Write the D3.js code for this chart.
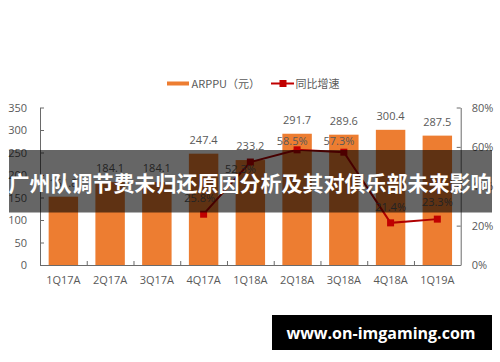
<!DOCTYPE html>
<html><head><meta charset="utf-8">
<script src="https://cdn.jsdelivr.net/npm/d3@7"></script>
<style>
html,body{margin:0;padding:0;background:#fff;}
svg{display:block;}
text{font-family:"Open Sans","Noto Sans CJK SC",sans-serif;}
</style></head>
<body><svg id="c" width="500" height="362"></svg>
<script>
const categories = ["1Q17A","2Q17A","3Q17A","4Q17A","1Q18A","2Q18A","3Q18A","4Q18A","1Q19A"];
const arppu = [151.8,184.1,184.1,247.4,233.2,291.7,289.6,300.4,287.5];
const growth = [null,null,null,25.8,52.3,58.5,57.3,21.4,23.3];
const leftTicks = [0,50,100,150,200,250,300,350];
const rightTicks = [0,20,40,60,80];
const barLabel = "ARPPU（元）";
const lineLabel = "同比增速";
const title = "广州队调节费未归还原因分析及其对俱乐部未来影响";
const watermark = "www.on-imgaming.com";

// label placement (layout only): offsets of growth-label centres from their markers
const growthLabelDx = [0,0,0,-4,-10,-5,-5,0,0];
const growthLabelDy = [0,0,0,-16,7,-9,-11.5,-16,-17];

const svg = d3.select("#c");
const L = 40, R = 460.7, T = 107.5, B = 265;
const txt = "#595959", axc = "#6a6a6a", orange = "#ED7D31", red = "#c00000";

const x = d3.scaleBand().domain(categories).range([L,R]).paddingInner(0.37).paddingOuter(0.185);
const yL = d3.scaleLinear().domain([0,350]).range([B,T]);
const yR = d3.scaleLinear().domain([0,80]).range([B,T]);
const xb = d3.scaleLinear().domain([0,categories.length]).range([L,R]);

// bars
svg.append("g").selectAll("rect").data(arppu).join("rect")
  .attr("x",(d,i)=>x(categories[i])).attr("width",x.bandwidth())
  .attr("y",d=>yL(d)).attr("height",d=>B-yL(d)).attr("fill",orange);

// axes
const gl = svg.append("g").attr("transform",`translate(${L},0)`)
  .call(d3.axisLeft(yL).tickValues(leftTicks).tickSize(-4).tickSizeOuter(0).tickPadding(13));
const gr = svg.append("g").attr("transform",`translate(${R},0)`)
  .call(d3.axisRight(yR).tickValues(rightTicks).tickSize(-4).tickSizeOuter(0).tickPadding(11).tickFormat(d=>d+"%"));
const gx = svg.append("g").attr("transform",`translate(0,${B})`)
  .call(d3.axisBottom(x).tickSize(0).tickPadding(11));
const gxt = svg.append("g").attr("transform",`translate(0,${B})`)
  .call(d3.axisBottom(xb).tickValues(d3.range(1,categories.length)).tickSize(-4).tickSizeOuter(0).tickFormat(""));
[gl,gr,gx,gxt].forEach(g=>{
  g.selectAll("path.domain").attr("stroke",axc).attr("stroke-width",1);
  g.selectAll(".tick line").attr("stroke",axc);
  g.selectAll("text").attr("fill",txt).style("font-size","11px").style("font-family",'"Open Sans",sans-serif');
});
gx.select("path.domain").remove();
gxt.select("path.domain").attr("d",`M${L},0.5H${R}`);

// bar labels
svg.append("g").selectAll("text").data(arppu).join("text")
  .attr("x",(d,i)=>x(categories[i])+x.bandwidth()/2).attr("y",d=>yL(d)-10)
  .attr("text-anchor","middle").attr("fill",txt).style("font-size","11px")
  .text(d=>d.toFixed(1));

// line
const pts = growth.map((g,i)=>({g,i})).filter(d=>d.g!==null);
const cx = d=>x(categories[d.i])+x.bandwidth()/2;
const line = d3.line().x(cx).y(d=>yR(d.g));
svg.append("path").datum(pts).attr("d",line).attr("fill","none").attr("stroke","#b00000").attr("stroke-width",2);
svg.append("g").selectAll("rect").data(pts).join("rect")
  .attr("x",d=>cx(d)-3.5).attr("y",d=>yR(d.g)-3.5)
  .attr("width",7).attr("height",7).attr("fill",red);
svg.append("g").selectAll("text").data(pts).join("text")
  .attr("x",d=>cx(d)+growthLabelDx[d.i]).attr("y",d=>yR(d.g)+growthLabelDy[d.i]+4)
  .attr("text-anchor","middle").attr("fill",txt).style("font-size","11px")
  .text(d=>d.g.toFixed(1)+"%");

// legend
const lg = svg.append("g");
lg.append("rect").attr("x",167).attr("y",81.5).attr("width",22).attr("height",4).attr("fill",orange);
lg.append("text").attr("x",191.5).attr("y",87.5).attr("fill",txt).style("font-size","11px")
  .style("font-family",'"Noto Sans CJK SC",sans-serif').text(barLabel);
lg.append("line").attr("x1",271).attr("x2",294).attr("y1",83.5).attr("y2",83.5).attr("stroke",red).attr("stroke-width",2);
lg.append("rect").attr("x",279.5).attr("y",80).attr("width",7).attr("height",7).attr("fill",red);
lg.append("text").attr("x",295.5).attr("y",87.5).attr("fill",txt).style("font-size","11px")
  .style("font-family",'"Noto Sans CJK SC",sans-serif').text(lineLabel);

// overlay band + title
svg.append("rect").attr("x",9).attr("y",150).attr("width",483).attr("height",62.5).attr("fill","rgba(0,0,0,0.6)");
svg.append("text").attr("x",250).attr("y",191).attr("text-anchor","middle").attr("fill","#fff")
  .style("font-family",'"Noto Sans CJK SC",sans-serif').style("font-weight","bold").style("font-size","21px")
  .text(title);

// watermark
svg.append("rect").attr("x",272).attr("y",315).attr("width",220).attr("height",35).attr("fill","#000");
svg.append("text").attr("x",381).attr("y",339).attr("text-anchor","middle").attr("fill","#fff")
  .style("font-family",'"Open Sans",sans-serif').style("font-weight","bold").style("font-size","16px")
  .text(watermark);
</script></body></html>
